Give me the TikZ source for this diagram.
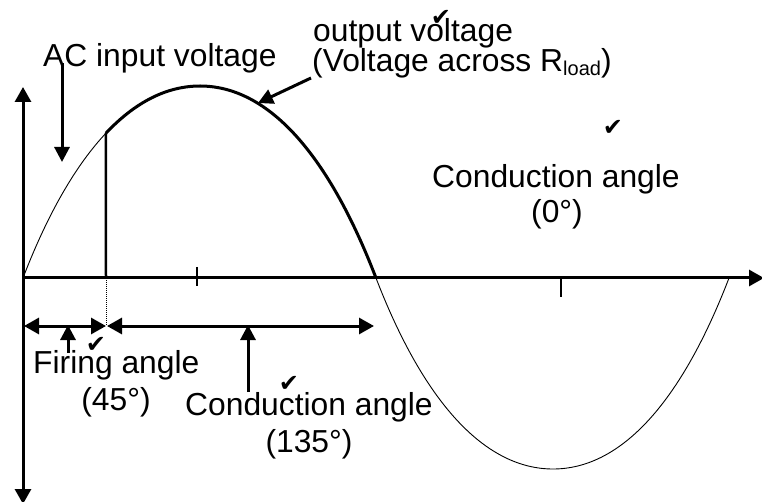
\documentclass[tikz,border=0pt]{standalone}
\usepackage{fontspec}
\setmainfont{Liberation Sans}
\newfontfamily\chk{DejaVu Sans}
\usetikzlibrary{arrows.meta}
\begin{document}
\begin{tikzpicture}[x=1pt,y=-1pt,
  thinwave/.style={line width=0.9pt},
  thickwave/.style={line width=3pt},
  axisline/.style={line width=3pt},
  pointer/.style={line width=3pt,-{Triangle[length=15pt,width=15pt]}},
  dbl/.style={line width=3pt,{Triangle[length=15pt,width=16pt]}-{Triangle[length=15pt,width=16pt]}},
  tickmark/.style={line width=2pt},
  lbl/.style={inner sep=0pt,font=\fontsize{31.8}{34}\selectfont},
  chkmark/.style={inner sep=0pt,font=\chk\fontsize{24}{24}\selectfont}]
\useasboundingbox (0,0) rectangle (762,502);
% key coordinates
\coordinate (O) at (23,278);
\coordinate (peak) at (200,86);
\coordinate (z1) at (376,278);
\coordinate (trough) at (553,469);
\coordinate (z2) at (729,278);
\coordinate (fire) at (105.9,133.25);
\coordinate (fireaxis) at (106,278);
\coordinate (firearr) at (106,326);
\coordinate (ytop) at (23,87);
\coordinate (ybot) at (23,504);
\coordinate (xend) at (764,278);
% input voltage (thin)
\draw[thinwave] (O) .. controls (73,148) and (135,86) .. (peak)
  .. controls (265,86) and (326,148) .. (z1)
  .. controls (426,408) and (488,469) .. (trough)
  .. controls (618,469) and (679,408) .. (z2);
% output voltage (thick)
\draw[thickwave] (fire) .. controls (135.75,101.5) and (167.5,86) .. (peak)
  .. controls (265,86) and (326,148) .. (z1);
% axes
\draw[axisline,{Triangle[length=15pt,width=16pt]}-{Triangle[length=15pt,width=16pt]}] (ybot) -- (ytop);
\draw[axisline,-{Triangle[length=15pt,width=16pt]}] (O) -- (xend);
% ticks
\coordinate (t1a) at (197,267); \coordinate (t1b) at (197,286);
\coordinate (t2a) at (561,278); \coordinate (t2b) at (561,297);
\draw[tickmark] (t1a) -- (t1b);
\draw[tickmark] (t2a) -- (t2b);
% firing line
\draw[line width=2.5pt] (fire) -- (fireaxis);
\draw[line width=1pt,densely dotted] (fireaxis) -- (firearr);
% angle arrows
\coordinate (fl) at (24,326);
\coordinate (cl) at (107,326);
\coordinate (cr) at (374,326);
\draw[dbl] (fl) -- (firearr);
\draw[dbl] (cl) -- (cr);
% labels
\node[lbl,anchor=base west] (ac) at (43,67) {AC input voltage};
\node[lbl,anchor=base west] (out1) at (313,42) {output voltage};
\node[lbl,anchor=base west] (out2) at (312,72) {(Voltage across R{\fontsize{20}{20}\selectfont\raisebox{-3.5pt}{load}})};
\node[lbl,anchor=base west] (cond0) at (432,188) {Conduction angle};
\node[lbl,anchor=base] (deg0) at (557,223) {(0°)};
\node[lbl,anchor=base west] (firing) at (33,373) {Firing angle};
\node[lbl,anchor=base] (deg45) at (116,410) {(45°)};
\node[lbl,anchor=base west] (cond) at (185,415) {Conduction angle};
\node[lbl,anchor=base] (deg135) at (309,452) {(135°)};
% check marks
\node[chkmark] (c1) at (441,18) {✔};
\node[chkmark] (c2) at (613,128) {✔};
\node[chkmark] (c3) at (96,345) {✔};
\node[chkmark] (c4) at (289,384) {✔};
% pointer arrows
\coordinate (acs) at (62,63); \coordinate (act) at (62,162);
\draw[pointer] (acs) -- (act);
\coordinate (outs) at (311,78); \coordinate (outt) at (258,103);
\draw[pointer] (outs) -- (outt);
\coordinate (fas) at (68,353); \coordinate (fat) at (68,325);
\draw[pointer] (fas) -- (fat);
\coordinate (cas) at (248,392); \coordinate (cat) at (248,325);
\draw[pointer] (cas) -- (cat);
\end{tikzpicture}
\end{document}
